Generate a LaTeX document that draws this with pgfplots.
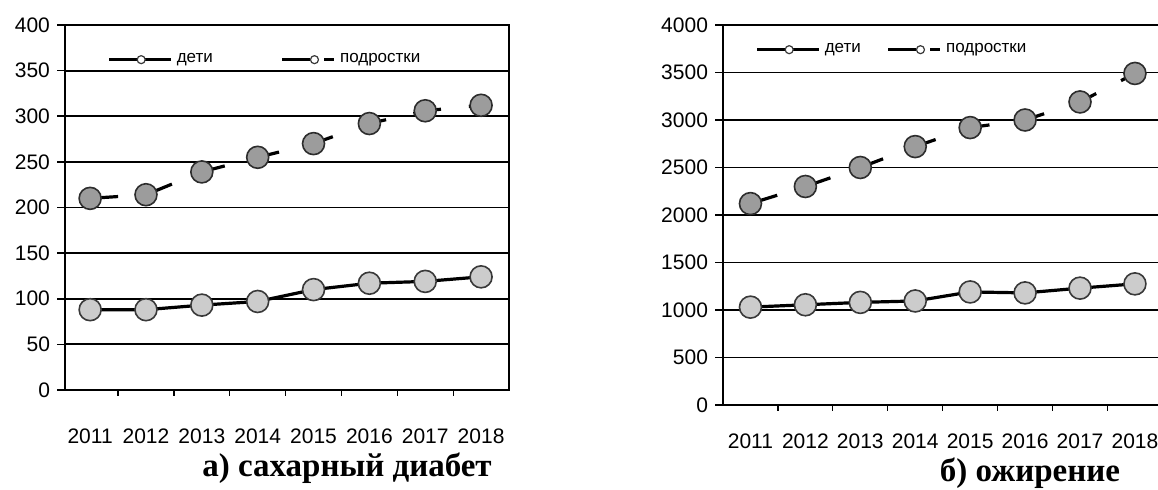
\documentclass[border=0pt]{standalone}
\usepackage{fontspec}
\setmainfont{Liberation Sans}
\newfontfamily\capfont{Liberation Serif}
\usepackage{pgfplots}
\pgfplotsset{compat=1.18}

% data: year index 0..7 = 2011..2018
\def\detiA{(0,88) (1,88) (2,93) (3,97) (4,110) (5,117) (6,119) (7,124)}
\def\podrA{(0,210) (1,214) (2,239) (3,255) (4,270) (5,292) (6,306) (7,312)}
\def\detiB{(0,1030) (1,1055) (2,1080) (3,1095) (4,1190) (5,1180) (6,1230) (7,1275)}
\def\podrB{(0,2120) (1,2300) (2,2500) (3,2720) (4,2920) (5,3000) (6,3190) (7,3490)}

\pgfplotsset{
  excel/.style={
    scale only axis,
    ymin=0,
    xtick={0,...,7},
    xticklabels={2011,2012,2013,2014,2015,2016,2017,2018},
    major x tick style={draw=none},
    minor xtick={0.5,1.5,...,6.5},
    minor x tick style={black,line width=0.6pt},
    minor tick length=3pt,
    major tick length=4pt,
    tick align=outside,
    ytick pos=left, xtick pos=bottom,
    y tick style={black,line width=0.8pt},
    ymajorgrids,
    grid style={black,line width=0.9pt},
    axis line style={black,line width=1pt},
    tick label style={font=\fontsize{10.5}{12}\selectfont},
    /pgf/number format/assume math mode=true,
    /pgf/number format/1000 sep={},
    scaled y ticks=false,
    legend columns=2,
    legend style={draw=none,fill=none,font=\fontsize{8.5}{10}\selectfont,
      inner sep=0pt,row sep=0pt},
  },
  deti/.style={black,line width=1.6pt,mark=*,
    mark options={solid,fill=gray!40,draw=gray!45!black,line width=0.8pt,scale=1},
    mark size=5.5pt,
    legend image code/.code={
      \draw[black,line width=1.6pt] (0pt,0pt)--(31pt,0pt);
      \draw[gray!45!black,fill=white,line width=0.6pt] (16pt,0pt) circle (2pt);}},
  podr/.style={black,line width=1.6pt,dash pattern=on 14pt off 14pt,mark=*,
    mark options={solid,fill=gray!78,draw=gray!35!black,line width=0.8pt},
    mark size=5.5pt,
    legend image code/.code={
      \draw[black,line width=1.6pt] (0pt,0pt)--(14pt,0pt);
      \draw[black,line width=1.6pt] (21pt,0pt)--(26pt,0pt);
      \draw[gray!45!black,fill=white,line width=0.6pt] (16pt,0pt) circle (2pt);}},
}

\begin{document}
\begin{tikzpicture}
\useasboundingbox (0pt,0pt) rectangle (579pt,245pt);

\begin{axis}[excel,
  at={(32.5pt,50pt)}, anchor=south west,
  width=222pt, height=182.5pt,
  xmin=-0.45, xmax=7.5,
  ymax=400, ytick={0,50,...,400},
  xticklabel style={yshift=-12pt},
  legend style={at={(0.095,0.905)},anchor=west,
    /tikz/every even column/.append style={column sep=32pt}},
]
\addplot[deti] coordinates {\detiA};
\addlegendentry{дети}
\addplot[podr] coordinates {\podrA};
\addlegendentry{подростки}
\end{axis}

\begin{axis}[excel,
  at={(361.5pt,42.5pt)}, anchor=south west,
  width=217.5pt, height=190pt,
  xmin=-0.5, xmax=7.42,
  axis x line*=bottom, axis y line*=left,
  ymax=4000, ytick={0,500,...,4000},
  xticklabel style={yshift=-7pt},
  legend style={at={(0.074,0.935)},anchor=west,
    /tikz/every even column/.append style={column sep=11pt}},
]
\addplot[deti] coordinates {\detiB};
\addlegendentry{дети}
\addplot[podr] coordinates {\podrB};
\addlegendentry{подростки}
\end{axis}

\node[inner sep=0pt,font=\capfont\bfseries\fontsize{16.5}{18}\selectfont] at (173.5pt,11pt) {а) сахарный диабет};
\node[inner sep=0pt,font=\capfont\bfseries\fontsize{16.5}{18}\selectfont] at (515pt,8.5pt) {б) ожирение};
\end{tikzpicture}
\end{document}
